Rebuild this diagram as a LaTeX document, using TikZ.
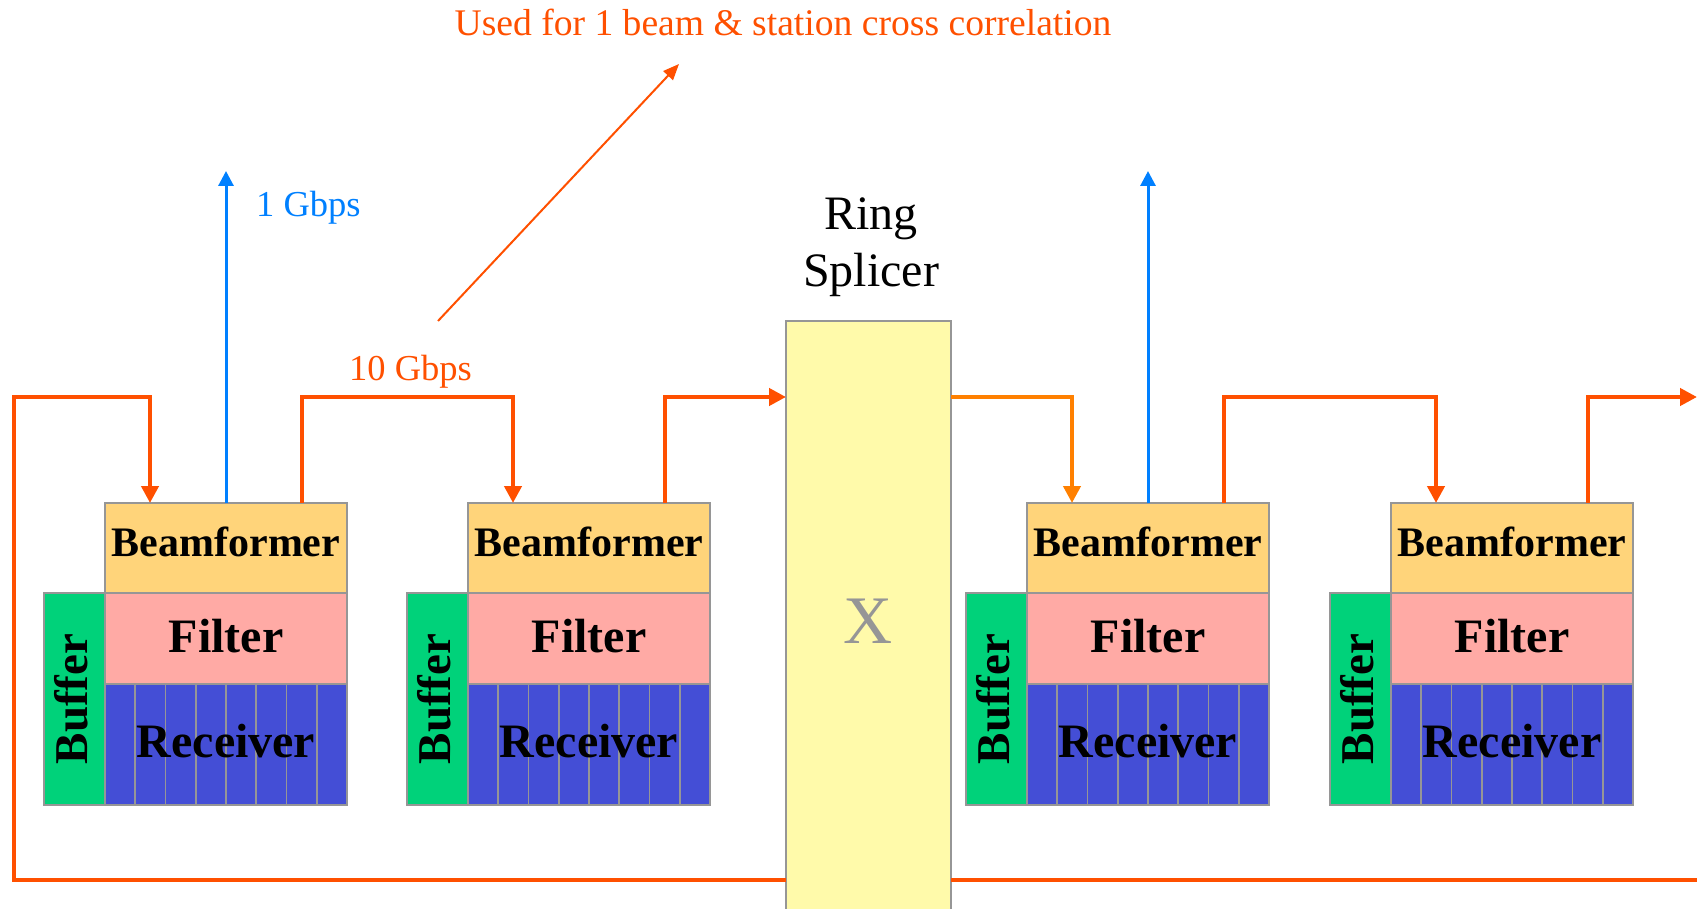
\documentclass[tikz,border=0pt]{standalone}
\usepackage{fontspec}
\setmainfont{Liberation Serif}
\usetikzlibrary{arrows.meta,calc}
\definecolor{wireor}{RGB}{255,80,0}
\definecolor{wirelt}{RGB}{255,128,0}
\definecolor{bluew}{RGB}{0,128,255}
\definecolor{bfcol}{RGB}{255,212,122}
\definecolor{ficol}{RGB}{255,170,165}
\definecolor{rccol}{RGB}{68,78,214}
\definecolor{bucol}{RGB}{0,210,122}
\definecolor{rscol}{RGB}{255,250,170}
\definecolor{edgegray}{RGB}{150,150,150}
\begin{document}
\begin{tikzpicture}[x=1pt,y=-1pt,
  box/.style={draw=edgegray,line width=1.5pt,inner sep=0pt,outer sep=0pt,anchor=north west},
  bfbox/.style={box,fill=bfcol,minimum width=242pt,minimum height=90pt,font=\fontsize{42}{50}\selectfont\bfseries,text depth=12pt},
  fibox/.style={box,fill=ficol,minimum width=242pt,minimum height=91pt,font=\fontsize{48}{56}\selectfont\bfseries,text depth=5.5pt},
  rcbox/.style={box,fill=rccol,minimum width=242pt,minimum height=121pt,font=\fontsize{48}{56}\selectfont\bfseries,text depth=7.5pt,
    path picture={\foreach \k in {1,...,7}{\draw[draw=edgegray,line width=1.8pt]
      ($(path picture bounding box.north west)!\k/8!(path picture bounding box.north east)$) --
      ($(path picture bounding box.south west)!\k/8!(path picture bounding box.south east)$);}}},
  bubox/.style={box,anchor=north east,fill=bucol,minimum width=61pt,minimum height=212pt},
  butext/.style={rotate=90,inner sep=0pt,font=\fontsize{47}{56}\selectfont\bfseries,text depth=8pt},
  wire/.style={draw=wireor,line width=4.2pt},
  wtip/.style={-{Triangle[length=17pt,width=17pt]}},
  bluearrow/.style={draw=bluew,line width=3pt,-{Triangle[length=15pt,width=15pt]}},
  lab/.style={inner sep=0pt,font=\fontsize{36.5}{43}\selectfont}
]
\useasboundingbox (0,0) rectangle (1697,909);

% ring splicer
\node[box,fill=rscol,minimum width=165pt,minimum height=600pt,text=edgegray,font=\fontsize{68}{80}\selectfont] (rs) at (786,321) {X};
\node[lab,align=center,font=\fontsize{48}{57}\selectfont] (rslab) at (871,247) {Ring\\Splicer};

% modules
\foreach \i/\x in {1/105,2/468,3/1027,4/1391}{
  \node[bfbox] (bf\i) at (\x,503) {Beamformer};
  \node[fibox] (fi\i) at (\x,593) {Filter};
  \node[rcbox] (rc\i) at (\x,684) {Receiver};
  \node[bubox] (bu\i) at (\x,593) {};
  \node[butext] (bt\i) at (bu\i.center) {Buffer};
  \coordinate (in\i) at ($(bf\i.north west)+(45,0)$);
  \coordinate (out\i) at ($(bf\i.north west)+(197,0)$);
}

\coordinate (bus) at (0,397);
\coordinate (loopL) at (14,880);
\coordinate (loopR) at (1697,880);
\coordinate (exitR) at (1697,397);
\coordinate (blueTop) at (0,171);
\coordinate (diagS) at (438,321);
\coordinate (diagE) at (679,64);

% orange ring wires
\draw[wire,wtip] (rs.west |- loopL) -- (loopL) -- (loopL |- bus) -| (in1);
\draw[wire] (rs.east |- loopR) -- (loopR);
\draw[wire,wtip] (out1) -- (out1 |- bus) -| (in2);
\draw[wire,wtip] (out2) -- (out2 |- bus) -- (rs.west |- bus);
\draw[wire,draw=wirelt,wtip] (rs.east |- bus) -| (in3);
\draw[wire,wtip] (out3) -- (out3 |- bus) -| (in4);
\draw[wire,wtip] (out4) -- (out4 |- bus) -- (exitR);

% blue outputs
\draw[bluearrow] (bf1.north) -- (bf1.north |- blueTop);
\draw[bluearrow] (bf3.north) -- (bf3.north |- blueTop);

% labels
\node[lab,text=bluew,anchor=base west] (g1) at (256,217) {1 Gbps};
\node[lab,text=wireor,anchor=base west] (g10) at (349,380) {10 Gbps};
\node[lab,text=wireor,anchor=base,font=\fontsize{37.6}{45}\selectfont] (title) at (783,36) {Used for 1 beam \& station cross correlation};
\draw[draw=wireor,line width=2pt,-{Triangle[length=16pt,width=13pt]}] (diagS) -- (diagE);
\end{tikzpicture}
\end{document}
